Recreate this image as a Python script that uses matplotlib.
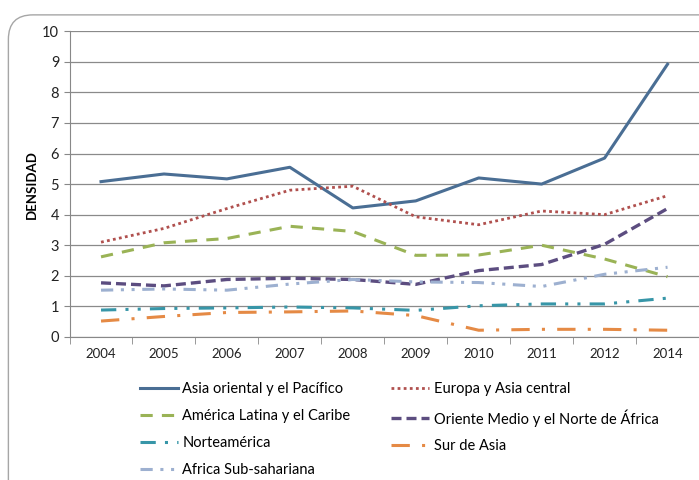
import numpy as np
import matplotlib.pyplot as plt
from matplotlib.patches import FancyBboxPatch

plt.rcParams['font.family'] = ['Lato', 'DejaVu Sans']

years = ["2004", "2005", "2006", "2007", "2008", "2009", "2010", "2011", "2012", "2014"]

asia_oriental = [5.08, 5.33, 5.17, 5.55, 4.22, 4.45, 5.20, 5.00, 5.85, 8.92]
europa_asia = [3.10, 3.55, 4.20, 4.80, 4.93, 3.93, 3.67, 4.12, 4.00, 4.62]
america_latina = [2.62, 3.08, 3.22, 3.62, 3.45, 2.67, 2.68, 3.00, 2.55, 1.97]
oriente_medio = [1.77, 1.67, 1.88, 1.92, 1.88, 1.72, 2.17, 2.37, 3.03, 4.20]
norteamerica = [0.88, 0.93, 0.95, 0.98, 0.95, 0.87, 1.02, 1.08, 1.08, 1.27]
sur_asia = [0.52, 0.67, 0.80, 0.82, 0.85, 0.70, 0.22, 0.25, 0.25, 0.22]
africa_sub = [1.53, 1.57, 1.53, 1.73, 1.88, 1.80, 1.78, 1.65, 2.05, 2.28]

series = [
    ("Asia oriental y el Pacífico", asia_oriental, "#4A6E94", "-", 2.2),
    ("Europa y Asia central", europa_asia, "#B0504E", (0, (1, 1.2)), 2.0),
    ("América Latina y el Caribe", america_latina, "#9AB356", (0, (4, 3)), 2.2),
    ("Oriente Medio y el Norte de África", oriente_medio, "#5C4D80", (0, (3, 1.5)), 2.4),
    ("Norteamérica", norteamerica, "#3796A8", (0, (5, 3, 1, 3, 1, 3)), 2.2),
    ("Sur de Asia", sur_asia, "#E58A45", (0, (6, 4, 1, 4)), 2.2),
    ("Africa Sub-sahariana", africa_sub, "#9DB0D0", (0, (4, 2.5, 1, 2.5, 1, 2.5)), 2.2),
]

fig = plt.figure(figsize=(6.99, 4.8), dpi=100)
# marco redondeado (sale por la derecha y abajo)
fig.patches.append(FancyBboxPatch((0.012, -0.1), 1.1, 1.069,
                                  boxstyle="round,pad=0,rounding_size=0.035",
                                  mutation_aspect=699 / 480,
                                  transform=fig.transFigure, fill=False,
                                  edgecolor="#a6a6a6", linewidth=1.0))
ax = fig.add_axes([0.0995, 0.298, 0.9005, 0.637])

x = np.arange(len(years))
lines = {}
for name, vals, col, ls, lw in series:
    lines[name], = ax.plot(x, vals, color=col, linestyle=ls, linewidth=lw, label=name)

ax.set_xlim(-0.5, len(years) - 0.5)
ax.set_ylim(0, 10)
ax.set_yticks(range(0, 11))
ax.set_xticks(x)
ax.set_xticklabels(years)
ax.set_xticks(np.arange(-0.5, len(years)), minor=True)
ax.tick_params(axis="x", which="major", length=0, pad=8, labelsize=9.5, colors="#222222")
ax.tick_params(axis="x", which="minor", length=5, color="#888888")
ax.tick_params(axis="y", length=4, color="#888888", labelsize=10.5, colors="#222222")
ax.grid(axis="y", color="#8a8a8a", linewidth=0.9)
ax.set_axisbelow(True)
for s in ["top", "right"]:
    ax.spines[s].set_visible(False)
ax.spines["left"].set_color("#888888")
ax.spines["bottom"].set_color("#888888")
ax.set_ylabel("DENSIDAD", fontsize=9.5, fontweight="bold", labelpad=3)

# orden por filas en dos columnas
order = [0, 2, 4, 6, 1, 3, 5]
handles = [lines[series[i][0]] for i in order]
labels = [series[i][0] for i in order]
ax.legend(handles, labels, loc="upper left", bbox_to_anchor=(0.112, -0.148), ncol=2,
          frameon=False, borderaxespad=0, borderpad=0,
          fontsize=10.5, handlelength=2.6, columnspacing=2.8, labelspacing=0.88,
          handletextpad=0.3)

fig.savefig("out.png", dpi=100)
